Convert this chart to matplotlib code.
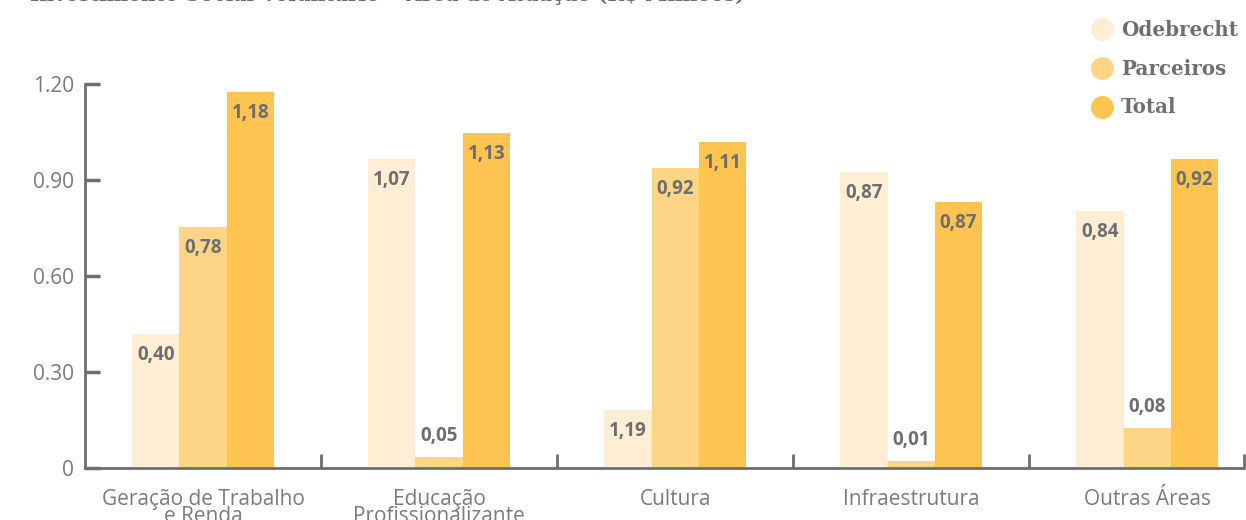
import matplotlib.pyplot as plt
from matplotlib.lines import Line2D
import numpy as np

categorias = ["Geração de Trabalho\ne Renda", "Educação\nProfissionalizante", "Cultura", "Infraestrutura", "Outras Áreas"]
series = ["Odebrecht", "Parceiros", "Total"]
odebrecht = [0.42, 0.966, 0.181, 0.925, 0.803]
parceiros = [0.753, 0.034, 0.9375, 0.022, 0.125]
total = [1.175, 1.047, 1.019, 0.831, 0.966]
rot_odebrecht = ["0,40", "1,07", "1,19", "0,87", "0,84"]
rot_parceiros = ["0,78", "0,05", "0,92", "0,01", "0,08"]
rot_total = ["1,18", "1,13", "1,11", "0,87", "0,92"]
yticks = [0, 0.30, 0.60, 0.90, 1.20]
ytick_labels = ["0", "0.30", "0.60", "0.90", "1.20"]

cores = ["#FFEED3", "#FED486", "#FEC451"]
cinza = "#6d6e71"

fig = plt.figure(figsize=(12.46, 5.2), dpi=100)
ax = fig.add_axes([85 / 1246, 52 / 520, (1244 - 85) / 1246, (468 - 84) / 520])

x = np.arange(len(categorias))
w = 0.2
px = 1.2 / 384  # data units per pixel
for k, (vals, rots) in enumerate(zip([odebrecht, parceiros, total], [rot_odebrecht, rot_parceiros, rot_total])):
    pos = x + (k - 1) * w
    ax.bar(pos, vals, width=w, color=cores[k], edgecolor="none", label=series[k])
    for xi, v, r in zip(pos, vals, rots):
        if v > 0.15:
            yy = v - 21 * px
        else:
            yy = v + 21 * px
        ax.text(xi, yy, r, ha="center", va="center", fontsize=13.5, fontweight="bold",
                family="Open Sans", color=cinza)

ax.set_xlim(-0.5, 4.41)
ax.set_ylim(0, 1.2)
ax.set_yticks(yticks)
ax.set_yticklabels(ytick_labels, family="Open Sans", fontsize=15, color="#7a7b7e")
ax.set_xticks([0.5, 1.5, 2.5, 3.5, 4.41])
ax.set_xticklabels([])
ax.set_xticks(x, minor=True)
ax.set_xticklabels(categorias, minor=True, family="Open Sans", fontsize=15, color="#7a7b7e",
                   linespacing=0.78)
ax.tick_params(axis="x", which="minor", length=0, pad=15)
ax.tick_params(axis="x", which="major", direction="in", length=10, width=2, color=cinza)
ax.tick_params(axis="y", direction="in", length=11, width=2.5, color=cinza, pad=8)
for s in ("top", "right"):
    ax.spines[s].set_visible(False)
for s in ("left", "bottom"):
    ax.spines[s].set_color(cinza)
    ax.spines[s].set_linewidth(2)

handles = [Line2D([], [], marker="o", linestyle="none", markersize=16.5, markerfacecolor=c,
                  markeredgecolor="none") for c in cores]
leg = fig.legend(handles, series, loc="upper right", bbox_to_anchor=(1.003, 0.985), frameon=False,
                 labelspacing=0.95, handletextpad=0.15, handlelength=1.6, borderaxespad=0.2,
                 prop={"family": "DejaVu Serif", "weight": "bold", "size": 14.3})
for t in leg.get_texts():
    t.set_color(cinza)

fig.text(0.024, 1 - 1 / 520, "Investimento Social Voluntário • Área de Atuação (R$ Milhões)",
         va="baseline", ha="left", fontsize=14.5, fontweight="bold", family="DejaVu Serif", color=cinza)

fig.savefig("out.png", dpi=100)
